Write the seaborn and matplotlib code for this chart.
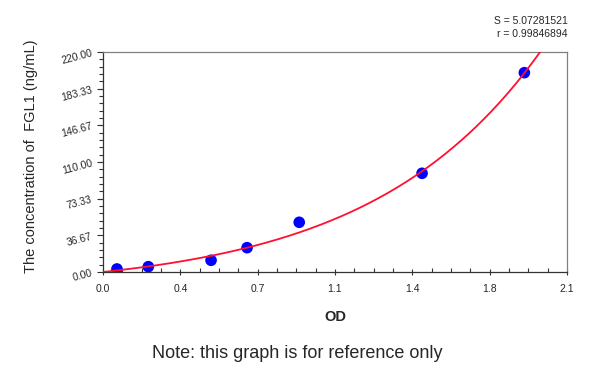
import numpy as np
import pandas as pd
import matplotlib
matplotlib.use("Agg")
import matplotlib.pyplot as plt
import seaborn as sns
from matplotlib.ticker import AutoMinorLocator

# standard points (OD vs concentration)
od_values = [0.063, 0.205, 0.489, 0.652, 0.888, 1.444, 1.907]
conc_values = [3.0, 5.3, 11.7, 24.3, 49.7, 98.7, 199.3]

# fitted curve parameters: y = a * (exp(k * x) - 1)
curve_a = 18.2
curve_k = 1.3

x_ticks = [0.0, 0.35, 0.70, 1.05, 1.40, 1.75, 2.10]
x_tick_labels = ["0.0", "0.4", "0.7", "1.1", "1.4", "1.8", "2.1"]
y_ticks = [0.0, 36.67, 73.33, 110.0, 146.67, 183.33, 220.0]
y_tick_labels = ["0.00", "36.67", "73.33", "110.00", "146.67", "183.33", "220.00"]

fit_s = "S = 5.07281521"
fit_r = "r = 0.99846894"

sns.set_theme(style="white")
plt.rcParams["font.family"] = ["Liberation Sans", "DejaVu Sans"]

fig = plt.figure(figsize=(6, 3.7), dpi=100)
ax = fig.add_axes([0.1717, 0.2649, 0.7733, 0.5946])

points = pd.DataFrame({"OD": od_values, "conc": conc_values})
sns.scatterplot(data=points, x="OD", y="conc", color="#0000ff", s=70,
                edgecolor="none", ax=ax, zorder=2)

xs = np.linspace(0, 2.1, 300)
curve = pd.DataFrame({"OD": xs, "conc": curve_a * (np.exp(curve_k * xs) - 1)})
sns.lineplot(data=curve, x="OD", y="conc", color="#ff1030", linewidth=1.3,
             ax=ax, zorder=3)

ax.set_xlim(0, 2.1)
ax.set_ylim(0, 220)
ax.set_xticks(x_ticks)
ax.set_xticklabels(x_tick_labels, fontsize=7.5)
ax.set_yticks(y_ticks)
ax.set_yticklabels(y_tick_labels, fontsize=7.5, rotation=15)
ax.xaxis.set_minor_locator(AutoMinorLocator(4))
ax.yaxis.set_minor_locator(AutoMinorLocator(5))

ax.tick_params(axis="x", which="major", direction="inout", length=5, width=0.8,
               color="#333333", pad=6, bottom=True)
ax.tick_params(axis="x", which="minor", direction="in", length=3, width=0.8,
               color="#333333", bottom=True)
ax.tick_params(axis="y", which="major", direction="out", length=4, width=0.8,
               color="#333333", pad=3, left=True)
ax.tick_params(axis="y", which="minor", direction="out", length=3, width=0.8,
               color="#333333", left=True)

for side in ["left", "bottom"]:
    ax.spines[side].set_color("#333333")
    ax.spines[side].set_linewidth(0.9)
for side in ["top", "right"]:
    ax.spines[side].set_color("#808080")
    ax.spines[side].set_linewidth(0.9)

ax.set_xlabel("OD", fontsize=10.5, fontweight="bold", labelpad=12)
ax.set_ylabel("The concentration of  FGL1 (ng/mL)", fontsize=10.5)
ax.yaxis.set_label_coords(-0.14, 0.525)

fig.text(0.946, 0.943, fit_s, ha="right", va="center", fontsize=7.5)
fig.text(0.946, 0.908, fit_r, ha="right", va="center", fontsize=7.5)
fig.text(0.495, 0.045, "Note: this graph is for reference only", ha="center",
         va="center", fontsize=13)

fig.savefig("out.png", dpi=100)
